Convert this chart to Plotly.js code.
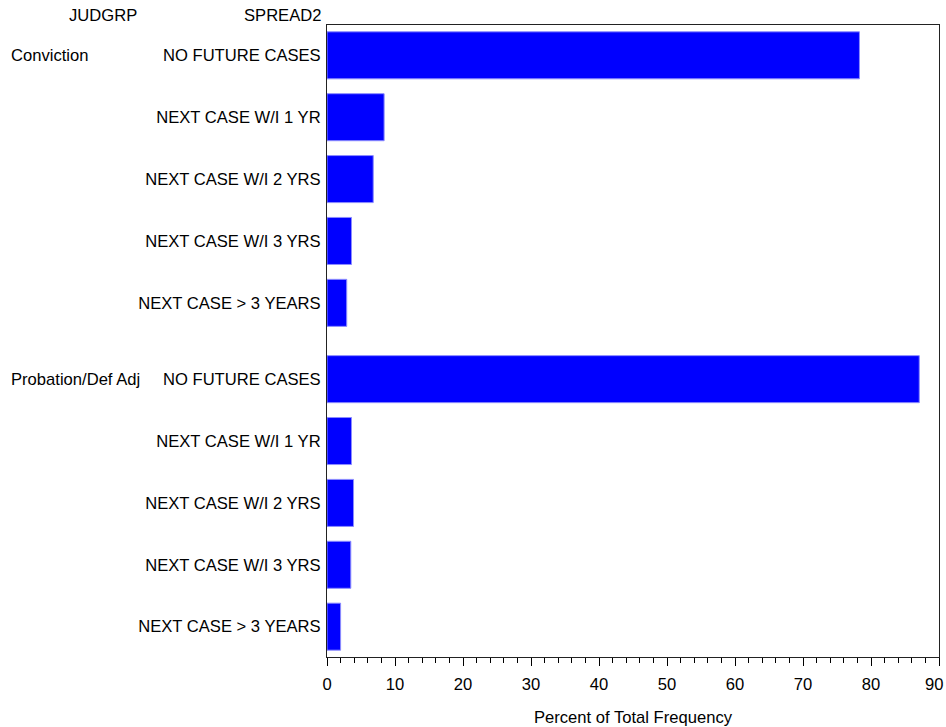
<!DOCTYPE html>
<html>
<head>
<meta charset="utf-8">
<script src="https://cdn.plot.ly/plotly-3.0.1.min.js"></script>
<style>html,body{margin:0;padding:0;background:#fff;}#chart{width:946px;height:727px;}</style>
</head>
<body>
<div id="chart"></div>
<script>
// ---- data ----
const groups = ["Conviction", "Probation/Def Adj"];
const categories = ["NO FUTURE CASES", "NEXT CASE W/I 1 YR", "NEXT CASE W/I 2 YRS", "NEXT CASE W/I 3 YRS", "NEXT CASE > 3 YEARS"];
const convictionPct = [78.3, 8.4, 6.8, 3.6, 2.9];
const probationPct = [87.1, 3.6, 3.9, 3.5, 2.0];
const xTickVals = [0, 10, 20, 30, 40, 50, 60, 70, 80, 90];

// ---- layout helpers ----
const groupGap = 0.233;
const seriesByGroup = [convictionPct, probationPct];
const rowPos = (g, r) => g * (categories.length + groupGap) + r;

const traces = seriesByGroup.map((vals, g) => ({
  type: "bar",
  orientation: "h",
  x: vals,
  y: categories.map((_, r) => rowPos(g, r)),
  width: 0.76,
  marker: {color: "#0000FF", line: {color: "#8c8cff", width: 1}},
  name: groups[g],
  showlegend: false,
  hoverinfo: "x"
}));

const tickVals = [], tickText = [];
groups.forEach((_, g) => categories.forEach((c, r) => { tickVals.push(rowPos(g, r)); tickText.push(c); }));

const lastPos = rowPos(groups.length - 1, categories.length - 1);
const font = {family: "Liberation Sans, Arial, sans-serif", size: 16.6, color: "#000"};

// last x tick label is drawn as an annotation so it stays inside the page edge
const xMax = xTickVals[xTickVals.length - 1];
const xTickText = xTickVals.map(v => v === xMax ? "" : String(v));

const annotations = [
  {text: "JUDGRP", xref: "paper", yref: "paper", x: 0, y: 1, xanchor: "center", yanchor: "middle", xshift: -224, yshift: 10, showarrow: false, font: font},
  {text: "SPREAD2", xref: "paper", yref: "paper", x: 0, y: 1, xanchor: "right", yanchor: "middle", xshift: -4, yshift: 10, showarrow: false, font: font},
  {text: String(xMax), xref: "x", yref: "paper", x: xMax, y: 0, xanchor: "right", yanchor: "middle", xshift: 6, yshift: -27, showarrow: false, font: font}
].concat(groups.map((gname, g) => ({
  text: gname, xref: "paper", yref: "y", x: 0, y: rowPos(g, 0), xanchor: "left", yanchor: "middle", xshift: -318, showarrow: false, font: font
})));

const layout = {
  width: 946, height: 727,
  margin: {l: 327, r: 7, t: 25, b: 70},
  paper_bgcolor: "#fff", plot_bgcolor: "#fff",
  font: font,
  bargap: 0,
  xaxis: {
    range: [0, xMax], tickvals: xTickVals, ticktext: xTickText, ticks: "outside", ticklen: 8, tickwidth: 1, tickcolor: "#000",
    minor: {dtick: 2, ticks: "outside", ticklen: 5, tickcolor: "#000", showgrid: false},
    showgrid: false, zeroline: false, showline: true, linecolor: "#222", linewidth: 1, mirror: true,
    title: {text: "Percent of Total Frequency", font: font, standoff: 20},
    tickfont: font, ticklabelstandoff: 4
  },
  yaxis: {
    range: [lastPos + 0.49, -0.49], tickvals: tickVals, ticktext: tickText, ticks: "",
    showgrid: false, zeroline: false, showline: true, linecolor: "#222", linewidth: 1, mirror: true,
    ticklabelstandoff: 2, tickfont: font
  },
  annotations: annotations
};

Plotly.newPlot("chart", traces, layout, {displayModeBar: false, staticPlot: true});
</script>
</body>
</html>
